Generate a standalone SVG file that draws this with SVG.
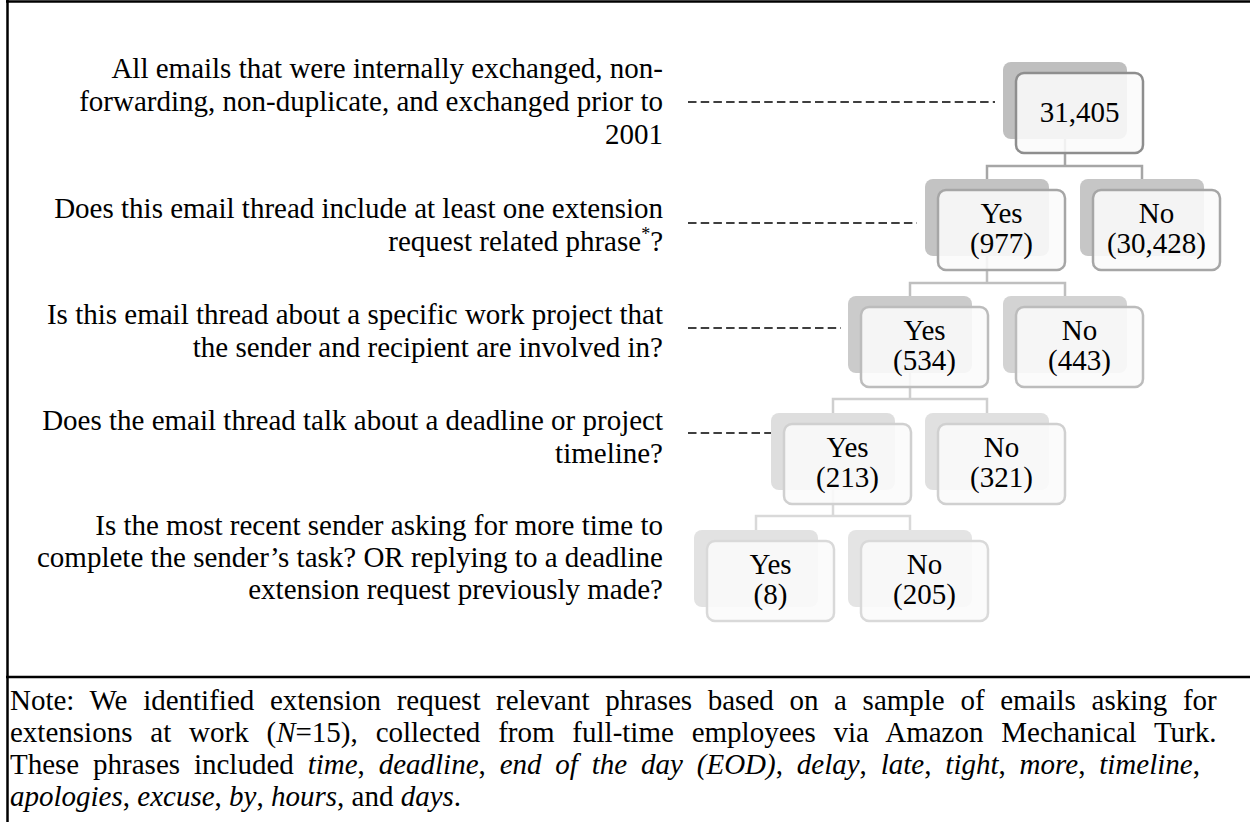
<svg xmlns="http://www.w3.org/2000/svg" width="1250" height="822" viewBox="0 0 1250 822">
<style>
text{font-family:"Liberation Serif","Times New Roman",serif;font-size:29px;fill:#000}
.q{text-anchor:end}
.n{text-anchor:middle}
.dash{stroke:#000;stroke-width:1.6;stroke-dasharray:8.5 4.2;fill:none}
.frame{stroke:#000;stroke-width:2.5;fill:none}
.fr{fill:#fafafa;fill-opacity:.88;stroke-width:2.5}
.f0{stroke:#8e8e8e}.f1{stroke:#a6a6a6}.f2{stroke:#bcbcbc}.f3{stroke:#d0d0d0}.f4{stroke:#d9d9d9}
.c{fill:none;stroke-width:2.5}
.c1{stroke:#a6a6a6}.c2{stroke:#bfbfbf}.c3{stroke:#cfcfcf}.c4{stroke:#d9d9d9}
</style>
<rect x="0" y="0" width="1250" height="822" fill="#fff"/>
<g id="frame">
<line class="frame" x1="6" y1="1.5" x2="1250" y2="1.5"/>
<line class="frame" x1="7.5" y1="0" x2="7.5" y2="822"/>
<line class="frame" x1="6" y1="677" x2="1250" y2="677"/>
</g>
<g id="questions">
<text class="q" x="663" y="78">All emails that were internally exchanged, non-</text>
<text class="q" x="663" y="111">forwarding, non-duplicate, and exchanged prior to</text>
<text class="q" x="663" y="144">2001</text>
<text class="q" x="663" y="218">Does this email thread include at least one extension</text>
<text class="q" x="663" y="251">request related phrase<tspan font-size="18" dy="-11">*</tspan><tspan dy="11">?</tspan></text>
<text class="q" x="663" y="324">Is this email thread about a specific work project that</text>
<text class="q" x="663" y="357">the sender and recipient are involved in?</text>
<text class="q" x="663" y="430">Does the email thread talk about a deadline or project</text>
<text class="q" x="663" y="463">timeline?</text>
<text class="q" x="663" y="535">Is the most recent sender asking for more time to</text>
<text class="q" x="663" y="567">complete the sender’s task? OR replying to a deadline</text>
<text class="q" x="663" y="599">extension request previously made?</text>
</g>
<g id="connectors">
<line class="dash" x1="688" y1="102" x2="995" y2="102"/>
<line class="dash" x1="688" y1="223" x2="917" y2="223"/>
<line class="dash" x1="688" y1="328" x2="841" y2="328"/>
<line class="dash" x1="688" y1="433" x2="772" y2="433"/>
<path class="c c1" d="M1065,139V166M987,179V166H1142V179"/>
<path class="c c2" d="M987,256V283M910,296V283H1065V296"/>
<path class="c c3" d="M910,373V399M833,413V399H987V413"/>
<path class="c c4" d="M833,490V516M756,530V516H910V530"/>
</g>
<g id="n0">
<rect x="1003" y="62" width="124" height="77" rx="8" fill="#bfbfbf"/>
<rect class="fr f0" x="1016" y="73" width="127" height="80" rx="8"/>
<text class="n" x="1079.5" y="122">31,405</text>
</g>
<g id="n1yes">
<rect x="925" y="179" width="124" height="77" rx="8" fill="#c3c3c3"/>
<rect class="fr f1" x="938" y="190" width="127" height="80" rx="8"/>
<text class="n" x="1001.5" y="223">Yes</text>
<text class="n" x="1001.5" y="253">(977)</text>
</g>
<g id="n1no">
<rect x="1080" y="179" width="124" height="77" rx="8" fill="#c6c6c6"/>
<rect class="fr f1" x="1093" y="190" width="127" height="80" rx="8"/>
<text class="n" x="1156.5" y="223">No</text>
<text class="n" x="1156.5" y="253">(30,428)</text>
</g>
<g id="n2yes">
<rect x="848" y="296" width="124" height="77" rx="8" fill="#cbcbcb"/>
<rect class="fr f2" x="861" y="307" width="127" height="80" rx="8"/>
<text class="n" x="924.5" y="340">Yes</text>
<text class="n" x="924.5" y="370">(534)</text>
</g>
<g id="n2no">
<rect x="1003" y="296" width="124" height="77" rx="8" fill="#d3d3d3"/>
<rect class="fr f2" x="1016" y="307" width="127" height="80" rx="8"/>
<text class="n" x="1079.5" y="340">No</text>
<text class="n" x="1079.5" y="370">(443)</text>
</g>
<g id="n3yes">
<rect x="771" y="413" width="124" height="77" rx="8" fill="#dedede"/>
<rect class="fr f3" x="784" y="424" width="127" height="80" rx="8"/>
<text class="n" x="847.5" y="457">Yes</text>
<text class="n" x="847.5" y="487">(213)</text>
</g>
<g id="n3no">
<rect x="925" y="413" width="124" height="77" rx="8" fill="#e0e0e0"/>
<rect class="fr f3" x="938" y="424" width="127" height="80" rx="8"/>
<text class="n" x="1001.5" y="457">No</text>
<text class="n" x="1001.5" y="487">(321)</text>
</g>
<g id="n4yes">
<rect x="694" y="530" width="124" height="77" rx="8" fill="#e2e2e2"/>
<rect class="fr f4" x="707" y="541" width="127" height="80" rx="8"/>
<text class="n" x="770.5" y="574">Yes</text>
<text class="n" x="770.5" y="604">(8)</text>
</g>
<g id="n4no">
<rect x="848" y="530" width="124" height="77" rx="8" fill="#e4e4e4"/>
<rect class="fr f4" x="861" y="541" width="127" height="80" rx="8"/>
<text class="n" x="924.5" y="574">No</text>
<text class="n" x="924.5" y="604">(205)</text>
</g>
<g id="note">
<text x="10" y="710" word-spacing="8.4">Note: We identified extension request relevant phrases based on a sample of emails asking for</text>
<text x="10" y="742" word-spacing="10.6">extensions at work (<tspan font-style="italic">N</tspan>=15), collected from full-time employees via Amazon Mechanical Turk.</text>
<text x="10" y="774" word-spacing="6.6">These phrases included <tspan font-style="italic">time</tspan>, <tspan font-style="italic">deadline</tspan>, <tspan font-style="italic">end of the day (EOD)</tspan>, <tspan font-style="italic">delay</tspan>, <tspan font-style="italic">late</tspan>, <tspan font-style="italic">tight</tspan>, <tspan font-style="italic">more</tspan>, <tspan font-style="italic">timeline</tspan>,</text>
<text x="10" y="806"><tspan font-style="italic">apologies</tspan>, <tspan font-style="italic">excuse</tspan>, <tspan font-style="italic">by</tspan>, <tspan font-style="italic">hours</tspan>, and <tspan font-style="italic">days</tspan>.</text>
</g>
</svg>
